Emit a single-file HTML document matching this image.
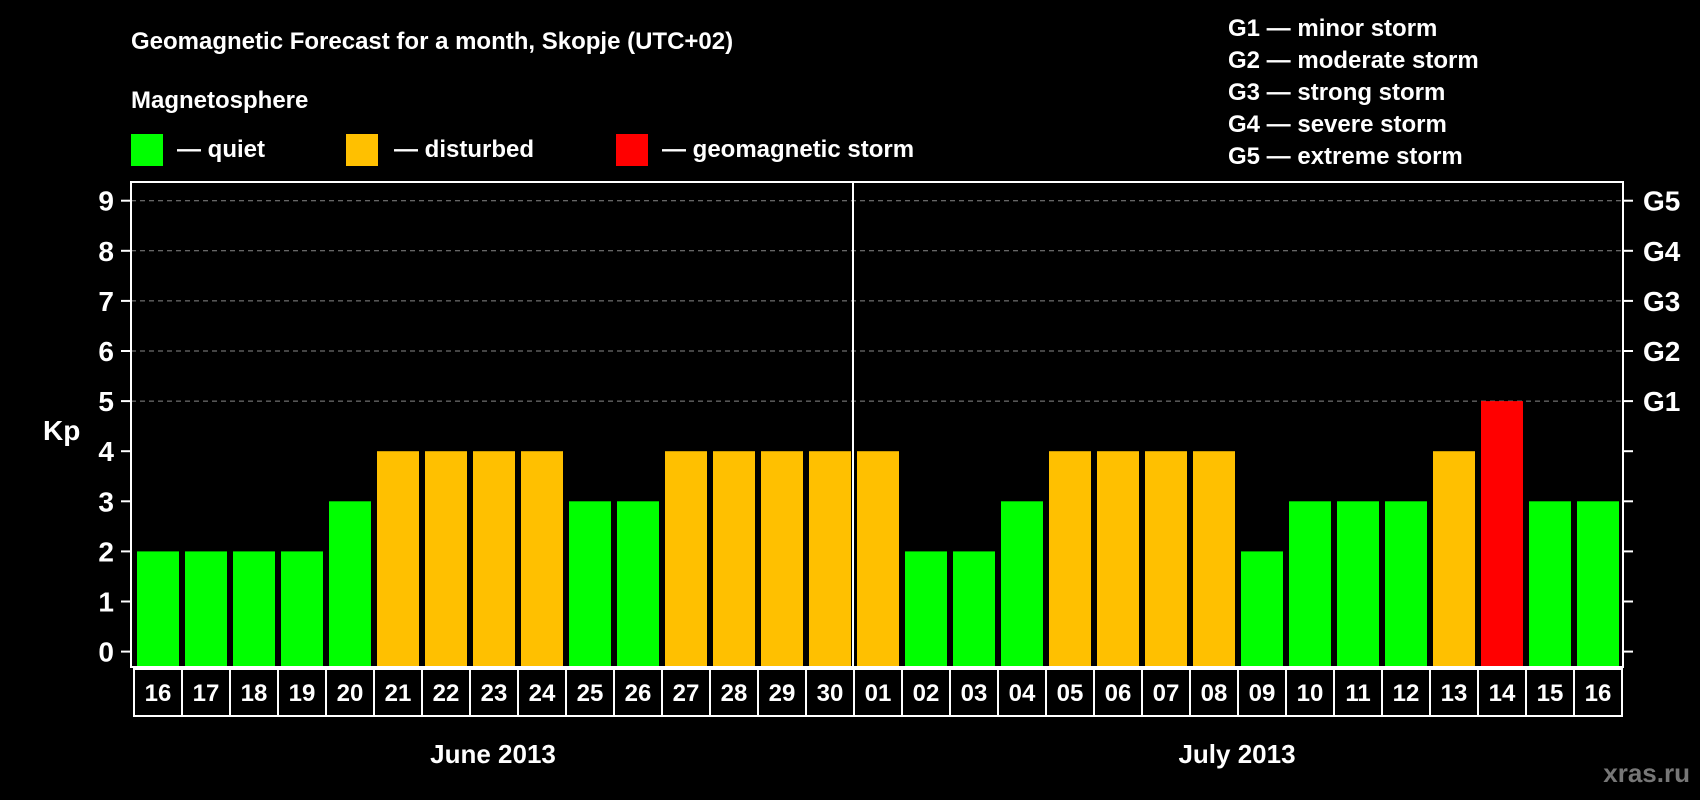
<!DOCTYPE html>
<html><head><meta charset="utf-8"><style>
html,body{margin:0;padding:0;background:#000;}
svg{display:block;font-family:"Liberation Sans",Arial,sans-serif;font-weight:bold;}
</style></head><body>
<svg id="chart" width="1700" height="800" viewBox="0 0 1700 800" xmlns="http://www.w3.org/2000/svg">
<rect width="1700" height="800" fill="#000"/>
<text x="131" y="49" fill="#fff" font-size="24">Geomagnetic Forecast for a month, Skopje (UTC+02)</text>
<text x="131" y="108" fill="#fff" font-size="24">Magnetosphere</text>
<g><rect x="131" y="134" width="32" height="32" fill="#00ff00"/><text x="177" y="157" fill="#fff" font-size="24">— quiet</text></g>
<g><rect x="346" y="134" width="32" height="32" fill="#ffc000"/><text x="394" y="157" fill="#fff" font-size="24">— disturbed</text></g>
<g><rect x="616" y="134" width="32" height="32" fill="#ff0000"/><text x="662" y="157" fill="#fff" font-size="24">— geomagnetic storm</text></g>
<g fill="#fff" font-size="24">
<text x="1228" y="36">G1 — minor storm</text>
<text x="1228" y="68">G2 — moderate storm</text>
<text x="1228" y="100">G3 — strong storm</text>
<text x="1228" y="132">G4 — severe storm</text>
<text x="1228" y="164">G5 — extreme storm</text>
</g>
<text x="43" y="440" fill="#fff" font-size="28">Kp</text>
<g id="plot"></g>
<text x="493" y="763" fill="#fff" font-size="26" text-anchor="middle">June 2013</text>
<text x="1237" y="763" fill="#fff" font-size="26" text-anchor="middle">July 2013</text>
<text x="1690" y="782" fill="#777" font-size="26" text-anchor="end">xras.ru</text>
</svg>
<script>
const days = ["16","17","18","19","20","21","22","23","24","25","26","27","28","29","30","01","02","03","04","05","06","07","08","09","10","11","12","13","14","15","16"];
const kpValues = [2,2,2,2,3,4,4,4,4,3,3,4,4,4,4,4,2,2,3,4,4,4,4,2,3,3,3,4,5,3,3];
const yTicks = [0,1,2,3,4,5,6,7,8,9];
const gLabels = ["","","","","","G1","G2","G3","G4","G5"];
const NS = "http://www.w3.org/2000/svg";
const plot = document.getElementById("plot");
const L=131, R=1623, T=182, B=667, X0=134, STEP=48;
function y(v){return 651.6 - v*50.1;}
function x(i){return X0 + i*STEP;}
function mk(tag, attrs){const e=document.createElementNS(NS,tag);for(const k in attrs)e.setAttribute(k,attrs[k]);plot.appendChild(e);return e;}
function color(v){return v>=5?"#ff0000":(v>=4?"#ffc000":"#00ff00");}
yTicks.forEach(v=>{
  if(v>=5){const g=mk("line",{x1:L,x2:R,y1:y(v),y2:y(v),stroke:"#888","stroke-width":1,"stroke-dasharray":"5,4"});
  
  }
  const t1=mk("line",{x1:L-10,x2:L,y1:y(v),y2:y(v),stroke:"#fff","stroke-width":2});
  
  
  const t2=mk("line",{x1:R,x2:R+10,y1:y(v),y2:y(v),stroke:"#fff","stroke-width":2});
  
  
  const lb=mk("text",{x:114,y:y(v)+10,fill:"#fff","font-size":28,"text-anchor":"end"});
  lb.textContent=v;
  
  
  if(gLabels[v]){const gl=mk("text",{x:1643,y:y(v)+10,fill:"#fff","font-size":28});
  gl.textContent=gLabels[v];
  
  }
});
kpValues.forEach((v,i)=>{
  const b=mk("rect",{x:x(i)+3,y:y(v),width:42,height:y(0)-y(v)+15,fill:color(v)});
  
  
  const c=mk("rect",{x:x(i),y:669,width:STEP,height:47,fill:"none",stroke:"#fff","stroke-width":2});
  
  
  const t=mk("text",{x:x(i)+STEP/2,y:701,fill:"#fff","font-size":24,"text-anchor":"middle"});
  t.textContent=days[i];
  
  
});
const d=mk("line",{x1:x(15)-1,x2:x(15)-1,y1:T,y2:B,stroke:"#fff","stroke-width":2});


const f=mk("rect",{x:L,y:T,width:R-L,height:B-T,fill:"none",stroke:"#fff","stroke-width":2});


</script>
</body></html>
